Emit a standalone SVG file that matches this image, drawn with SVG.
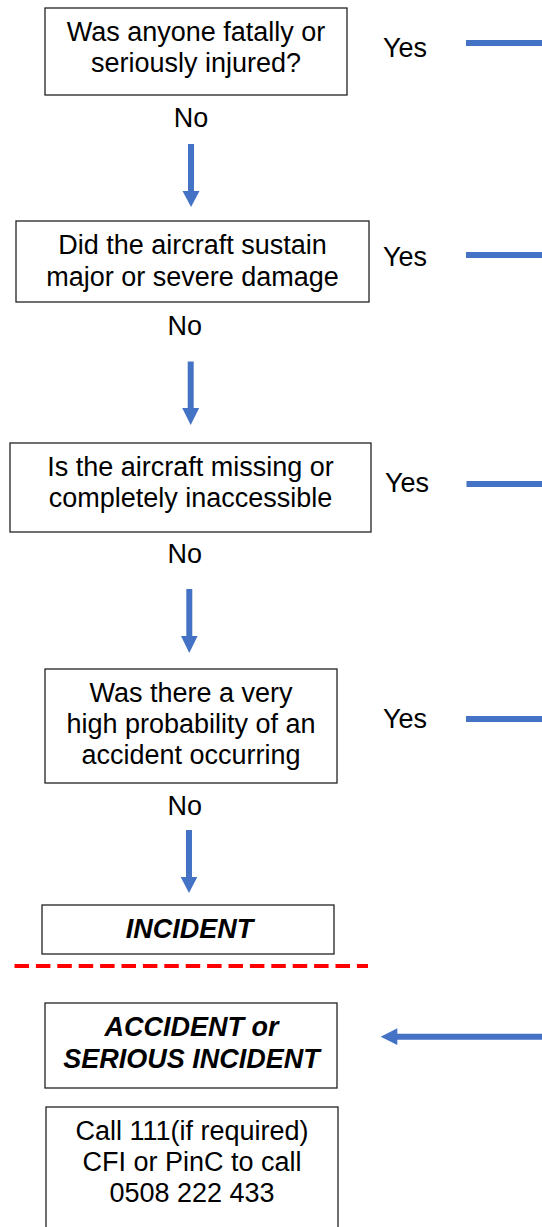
<svg xmlns="http://www.w3.org/2000/svg" width="542" height="1227" viewBox="0 0 542 1227">
  <style>
    .box { fill: #ffffff; stroke: #222222; stroke-width: 1.3; }
    .t { font-family: "Liberation Sans", Arial, sans-serif; font-size: 27px; fill: #000000; text-anchor: middle; }
    .bi { font-weight: bold; font-style: italic; }
    .lbl { font-family: "Liberation Sans", Arial, sans-serif; font-size: 27px; fill: #000000; }
    .conn { stroke: #4472C4; stroke-width: 6; fill: none; }
    .head { fill: #4472C4; }
  </style>
  <rect width="542" height="1227" fill="#ffffff"/>

  <g id="q1">
    <rect class="box" x="45" y="8" width="302" height="87"/>
    <text class="t" x="196" y="41">Was anyone fatally or</text>
    <text class="t" x="196" y="72">seriously injured?</text>
  </g>
  <g id="q2">
    <rect class="box" x="16" y="221" width="353" height="81"/>
    <text class="t" x="192.5" y="254">Did the aircraft sustain</text>
    <text class="t" x="192.5" y="286">major or severe damage</text>
  </g>
  <g id="q3">
    <rect class="box" x="10" y="443" width="361" height="89"/>
    <text class="t" x="190.5" y="476">Is the aircraft missing or</text>
    <text class="t" x="190.5" y="507">completely inaccessible</text>
  </g>
  <g id="q4">
    <rect class="box" x="45" y="669" width="292" height="114"/>
    <text class="t" x="191" y="702">Was there a very</text>
    <text class="t" x="191" y="733">high probability of an</text>
    <text class="t" x="191" y="764">accident occurring</text>
  </g>
  <g id="incident">
    <rect class="box" x="42" y="905" width="292" height="49"/>
    <text class="t bi" x="189.5" y="938">INCIDENT</text>
  </g>
  <g id="accident">
    <rect class="box" x="45" y="1003" width="292" height="85"/>
    <text class="t bi" x="191.5" y="1036">ACCIDENT or</text>
    <text class="t bi" x="191.5" y="1068">SERIOUS INCIDENT</text>
  </g>
  <g id="call">
    <rect class="box" x="46" y="1107" width="292" height="130"/>
    <text class="t" x="192" y="1140">Call 111(if required)</text>
    <text class="t" x="192" y="1171">CFI or PinC to call</text>
    <text class="t" x="192" y="1202">0508 222 433</text>
  </g>

  <g id="labels">
    <text class="lbl" x="383" y="57">Yes</text>
    <text class="lbl" x="383" y="266">Yes</text>
    <text class="lbl" x="385" y="492">Yes</text>
    <text class="lbl" x="383" y="728">Yes</text>
    <text class="t" x="191" y="127">No</text>
    <text class="t" x="184.7" y="335">No</text>
    <text class="t" x="184.7" y="563">No</text>
    <text class="t" x="184.7" y="815">No</text>
  </g>

  <g id="divider">
    <line x1="14.5" y1="966" x2="368" y2="966" stroke="#FF0000" stroke-width="4" stroke-dasharray="14.5 6.9"/>
  </g>

  <g id="connectors">
    <line class="conn" x1="191" y1="144" x2="191" y2="192"/>
    <polygon class="head" points="182.5,191 199.5,191 191,207"/>
    <line class="conn" x1="190.7" y1="361.5" x2="190.7" y2="409"/>
    <polygon class="head" points="182.2,408 199.2,408 190.7,425"/>
    <line class="conn" x1="189.3" y1="589" x2="189.3" y2="637"/>
    <polygon class="head" points="181,636 197.6,636 189.3,653"/>
    <line class="conn" x1="189" y1="830" x2="189" y2="878"/>
    <polygon class="head" points="180.7,877 197.3,877 189,893"/>

    <line class="conn" x1="466" y1="43" x2="542" y2="43"/>
    <line class="conn" x1="466" y1="255" x2="542" y2="255"/>
    <line class="conn" x1="466.5" y1="484" x2="542" y2="484"/>
    <line class="conn" x1="466" y1="719" x2="542" y2="719"/>

    <line class="conn" x1="396" y1="1036.7" x2="542" y2="1036.7"/>
    <polygon class="head" points="380.7,1036.7 397.3,1028.3 397.3,1045"/>
  </g>
</svg>
